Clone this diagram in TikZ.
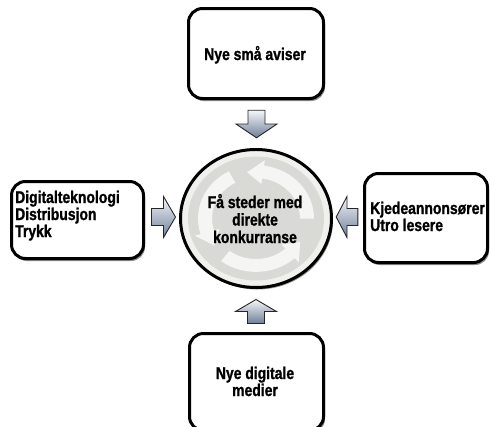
\documentclass[tikz,border=0pt]{standalone}
\usepackage{fontspec}
\newfontfamily\labfont{Liberation Sans}[FakeStretch=0.82, FakeBold=1.2]
\usetikzlibrary{shapes.geometric,shadows}
\definecolor{arrowdark}{HTML}{6F7E98}
\definecolor{arrowlight}{HTML}{F4F7FB}
\definecolor{discgray}{HTML}{D9D9D5}
\definecolor{rimgray}{HTML}{F0F0ED}
\tikzset{
  box/.style={draw=black, line width=3pt, rounded corners=14pt, fill=white, inner sep=0pt,
    drop shadow={shadow xshift=1.5pt, shadow yshift=-2.5pt, opacity=0.45, fill=black}},
  lbl/.style={font=\labfont\bfseries\fontsize{17}{18}\selectfont, inner sep=0pt, text=black},
  blockarrow/.pic={
    \shade[draw=black!85, line width=0.9pt, line join=miter,
      top color=arrowlight, middle color=white, bottom color=arrowdark]
      (-12,-8.5) -- (0,-8.5) -- (0,-20.5) -- (12,0) -- (0,20.5) -- (0,8.5) -- (-12,8.5) -- cycle;
  }
}
\begin{document}
\begin{tikzpicture}[x=1pt,y=-1pt]
\clip (0,0) rectangle (490,426);
\fill[white] (0,0) rectangle (490,426);

% boxes
\node[box, minimum width=135pt, minimum height=90pt] (topbox) at (256,53.5) {};
\node[box, minimum width=132pt, minimum height=77pt] (leftbox) at (77.5,220) {};
\node[box, minimum width=123pt, minimum height=89pt] (rightbox) at (426,218) {};
\node[box, minimum width=134pt, minimum height=97pt] (bottombox) at (256.5,382) {};

% hub
\node[ellipse, draw=black, line width=3pt, fill=rimgray, minimum width=151pt, minimum height=138pt,
  inner sep=0pt, drop shadow={shadow xshift=1.5pt, shadow yshift=-2pt, opacity=0.4, fill=black}] (hub) at (256,218.5) {};
\fill[discgray] (hub.center) ellipse [x radius=68, y radius=62];
\begin{scope}[shift={(hub.center)}, yscale=-0.92]
  \foreach \s/\b/\t in {0/82/100, 118/197/215, 233/312/330}{
    \fill[white, opacity=0.75] (\s:58) arc[start angle=\s, end angle=\b, radius=58]
      -- (\b:64) -- (\t:51) -- (\b:38) -- (\b:44)
      arc[start angle=\b, end angle=\s, radius=44] -- cycle;
  }
\end{scope}

% texts
\node[lbl, anchor=base] (t1) at (255,60) {Nye små aviser};

\node[lbl, anchor=base] (h1) at (255,208) {Få steder med};
\node[lbl, anchor=base] (h2) at (255,225.5) {direkte};
\node[lbl, anchor=base] (h3) at (255,243) {konkurranse};

\node[lbl, anchor=base west] (l1) at (15,203) {Digitalteknologi};
\node[lbl, anchor=base west] (l2) at (15,220) {Distribusjon};
\node[lbl, anchor=base west] (l3) at (15,237) {Trykk};

\node[lbl, anchor=base west] (r1) at (370,214) {Kjedeannonsører};
\node[lbl, anchor=base west] (r2) at (370,231) {Utro lesere};

\node[lbl, anchor=base] (b1) at (255,379) {Nye digitale};
\node[lbl, anchor=base] (b2) at (255,396) {medier};

% block arrows
\pic[rotate=-90, xscale=1.15] (arrowtop) at (256.5,124) {blockarrow};
\pic (arrowleft) at (163.5,217) {blockarrow};
\pic[rotate=180, xscale=0.9] (arrowright) at (347,217) {blockarrow};
\pic[rotate=90] (arrowbottom) at (256,311.5) {blockarrow};
\end{tikzpicture}
\end{document}
